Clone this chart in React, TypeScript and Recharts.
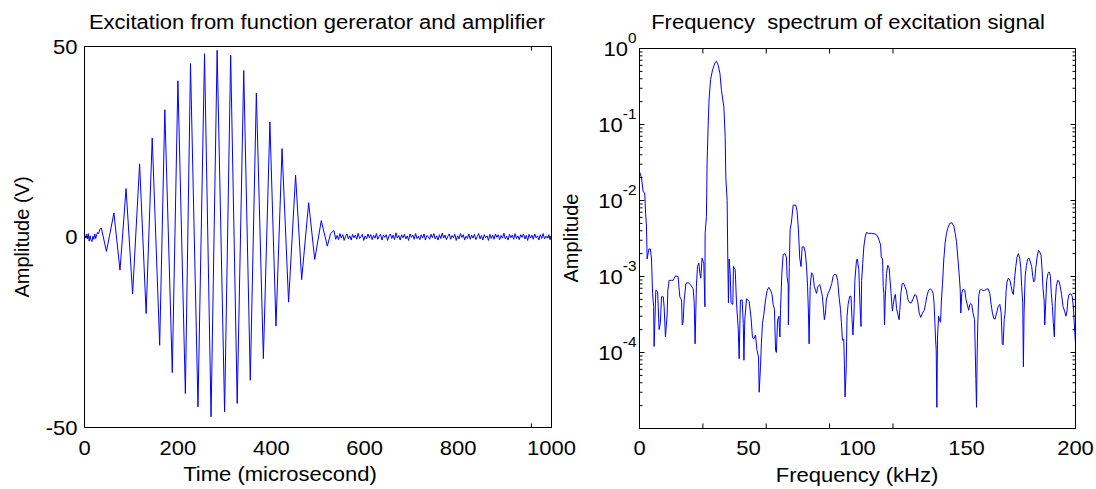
import React from "react";
import { LineChart, Line, XAxis, YAxis } from "recharts";

const FONT = '"Liberation Sans", Arial, Helvetica, sans-serif';
const TRACE = "#0000ff";
const INK = "#000000";

// ---- excitation signal (time in microseconds, amplitude in volts) ----
const leadTime = [0, 2, 4, 6, 8, 10, 12, 14, 16, 18, 20, 22, 24, 26, 28, 30];
const leadVolt = [0.4, -0.3, 0.7, -0.5, 0.9, -1.1, 0.3, -0.8, -1.2, 0.2, -0.6, 0.8, -0.4, 0.6, 1.2, 0.9];

const burstTime = [
  33, 36, 47, 63, 76, 89, 103, 118, 132, 145,
  161, 172, 188, 200, 216, 227, 243, 257, 271, 284,
  300, 313, 327, 341, 355, 368, 383, 397, 410, 423,
  437, 452, 465, 480, 493, 507, 520, 527, 534, 538,
];
const burstVolt = [
  2.0, 2.4, -3.8, 6.3, -8.7, 12.7, -14.9, 19.2, -20.1, 26.0,
  -28.4, 33.4, -35.6, 41.0, -41.1, 45.5, -44.6, 48.1, -47.2, 49.0,
  -45.9, 47.7, -43.7, 43.7, -37.6, 37.8, -31.9, 30.2, -23.4, 23.2,
  -17.1, 16.2, -11.2, 9.0, -5.9, 4.3, -2.4, 0.9, 1.7, -0.6,
];

// residual noise after the burst, sampled every 3 us from 541 us
const TAIL_START = 541;
const TAIL_STEP = 3;
const tailVolt = [
  0.4, -0.7, 0.9, -0.3, 0.6, -0.9, 0.2, 0.8, -0.5, 0.3,
  -0.8, 0.7, -0.2, 0.5, -0.6, 1.0, -0.4, 0.1, 0.7, -0.9,
  0.3, -0.5, 0.8, -0.2, 0.6, -0.7, 0.4, -0.3, 0.9, -0.6,
  0.2, 0.7, -0.8, 0.5, -0.1, 0.6, -0.9, 0.3, 0.8, -0.4,
  0.5, -0.7, 1.1, -0.3, 0.4, -0.8, 0.6, -0.2, 0.7, -0.5,
  0.3, -0.9, 0.8, -0.1, 0.5, -0.6, 0.9, -0.4, 0.2, -0.7,
  0.6, -0.3, 0.8, -0.8, 0.4, 0.1, -0.6, 0.7, -0.2, 0.9,
  -0.5, 0.3, -0.8, 0.6, -0.4, 1.0, -0.3, 0.5, -0.7, 0.2,
  0.8, -0.6, 0.4, -0.2, 0.7, -0.9, 0.3, -0.5, 0.9, -0.1,
  0.6, -0.8, 0.2, -0.4, 0.8, -0.6, 0.5, -0.3, 0.7, -0.7,
  0.1, 0.9, -0.5, 0.4, -0.8, 0.6, -0.2, 0.3, -0.9, 0.7,
  -0.4, 0.5, -0.6, 0.8, -0.1, 0.6, -0.7, 0.4, -0.3, 1.0,
  -0.5, 0.2, -0.8, 0.7, -0.2, 0.5, -0.6, 0.9, -0.4, 0.3,
  -0.7, 0.6, -0.1, 0.8, -0.5, 0.4, -0.9, 0.7, -0.3, 0.5,
  -0.6, 0.8, -0.2, 0.3, -0.8, 0.6, -0.4, 0.9, -0.5, 0.2,
  -0.3, 0.6, -0.7, 0.4,
];

const timeTicks = [0, 200, 400, 600, 800, 1000];
const voltTicks = [-50, 0, 50];

// ---- frequency spectrum (kHz, linear amplitude) ----
const specFreq = [
  0, 0.9, 1.7, 2.4, 2.8, 3.2, 3.5, 4.3, 5.0, 5.5,
  6.0, 6.5, 6.7, 7.5, 8.3, 8.6, 9.0, 9.6, 10.1, 10.9,
  11.3, 11.9, 12.7, 13.0, 13.6, 14.7, 15.4, 16.5, 17.7, 18.5,
  19.3, 19.6, 20.0, 20.5, 21.3, 22.3, 23.4, 24.6, 25.1, 25.5,
  26.1, 26.6, 27.2, 27.7, 28.1, 28.7, 29.5, 30.0, 30.1, 30.7,
  31.0, 31.5, 31.9, 32.6, 33.5, 34.6, 35.3, 36.1, 36.9, 37.6,
  38.7, 39.3, 39.6, 40.2, 40.5, 40.8, 41.1, 41.6, 42.0, 42.8,
  43.1, 43.9, 44.5, 45.3, 45.7, 46.3, 47.1, 47.6, 47.9, 48.3,
  49.1, 50.3, 51.2, 51.8, 52.4, 53.2, 53.9, 54.6, 54.9, 55.5,
  55.9, 56.4, 57.0, 57.8, 58.6, 59.3, 60.1, 60.8, 61.3, 61.9,
  62.4, 62.8, 63.3, 63.9, 64.4, 64.7, 65.3, 65.9, 66.7, 67.4,
  67.7, 68.2, 68.3, 68.7, 69.1, 69.7, 70.5, 71.7, 72.3, 72.9,
  73.5, 74.1, 74.6, 75.4, 76.0, 76.6, 77.1, 77.5, 77.8, 78.3,
  78.9, 79.6, 80.2, 80.7, 81.2, 81.8, 82.7, 83.3, 83.9, 84.4,
  84.8, 85.3, 85.7, 86.5, 87.2, 88.2, 88.8, 89.4, 90.3, 90.9,
  91.5, 92.2, 92.6, 93.1, 93.7, 94.0, 94.3, 94.8, 95.2, 95.7,
  96.4, 97.0, 97.5, 97.9, 98.4, 98.8, 99.5, 99.9, 100.6, 101.1,
  101.6, 101.9, 102.4, 102.9, 103.5, 104.1, 105.0, 106.4, 108.4, 109.2,
  109.9, 110.6, 110.9, 111.5, 111.8, 112.1, 112.4, 112.7, 113.3, 113.9,
  114.5, 114.8, 115.4, 115.7, 116.0, 116.4, 117.0, 117.4, 117.9, 118.5,
  119.1, 119.4, 119.9, 120.5, 121.2, 121.7, 122.4, 123.2, 124.0, 124.7,
  125.5, 126.3, 127.0, 127.7, 128.3, 129.0, 129.8, 130.6, 131.2, 131.8,
  132.6, 133.3, 134.1, 134.7, 135.1, 135.5, 135.8, 136.1, 136.4, 136.7,
  137.2, 137.6, 138.1, 138.5, 139.0, 139.6, 140.2, 140.8, 141.4, 142.3,
  143.3, 144.2, 144.8, 145.4, 146.0, 146.6, 147.1, 147.4, 147.8, 148.4,
  149.2, 149.7, 150.4, 151.0, 151.5, 152.0, 152.4, 153.0, 153.7, 154.0,
  154.3, 154.6, 154.9, 155.2, 155.6, 156.1, 156.9, 157.6, 158.4, 159.2,
  159.9, 160.7, 161.3, 161.9, 162.5, 163.1, 163.8, 164.5, 165.3, 165.9,
  166.4, 166.8, 167.3, 167.7, 168.2, 168.6, 169.2, 169.9, 170.5, 171.1,
  171.5, 172.0, 172.6, 173.2, 173.8, 174.4, 174.9, 175.3, 175.8, 176.1,
  176.4, 176.9, 177.5, 178.1, 178.7, 179.3, 179.9, 180.4, 180.8, 181.3,
  181.8, 182.4, 183.0, 183.6, 184.2, 184.7, 185.1, 185.6, 185.9, 186.4,
  186.8, 187.4, 188.0, 188.5, 188.9, 189.4, 189.8, 190.3, 190.7, 191.2,
  191.8, 192.4, 193.0, 193.6, 194.3, 195.0, 195.6, 196.1, 196.5, 197.0,
  197.9, 198.5, 199.0, 199.4, 200.0,
];
const specAmp = [
  2.4e-2, 2.0e-2, 1.3e-2, 1.26e-2, 6.8e-3, 4.6e-3, 1.7e-3, 2.3e-3, 2.3e-3, 1.7e-3,
  6.0e-4, 4.0e-4, 1.2e-4, 6.6e-4, 6.3e-4, 4.0e-4, 2.0e-4, 2.5e-4, 5.4e-4, 5.4e-4,
  4.0e-4, 1.6e-4, 3.2e-4, 6.6e-4, 8.9e-4, 8.9e-4, 8.9e-4, 1.02e-3, 1.0e-3, 5.4e-4,
  4.9e-4, 2.3e-4, 2.5e-4, 4.9e-4, 8.1e-4, 8.3e-4, 7.8e-4, 6.9e-4, 4.5e-4, 1.3e-4,
  7.4e-4, 1.35e-3, 1.5e-3, 1.1e-3, 9.5e-4, 1.74e-3, 1.48e-3, 4.0e-4, 3.7e-3, 6.2e-3,
  3.1e-2, 9.8e-2, 2.1e-1, 3.9e-1, 5.2e-1, 6.5e-1, 6.8e-1, 6.0e-1, 4.7e-1, 2.8e-1,
  1.7e-1, 6.9e-2, 2.0e-2, 1.0e-2, 1.7e-3, 4.5e-4, 1.7e-3, 1.1e-3, 4.5e-4, 4.3e-4,
  1.35e-3, 1.23e-3, 4.5e-4, 2.0e-4, 8.3e-5, 4.9e-4, 4.9e-4, 2.4e-4, 7.9e-5, 2.7e-4,
  5.1e-4, 4.7e-4, 2.8e-4, 1.6e-4, 1.5e-4, 1.7e-4, 1.07e-4, 8.7e-5, 3.0e-5, 6.5e-5,
  1.3e-4, 2.4e-4, 3.1e-4, 4.9e-4, 6.6e-4, 7.2e-4, 6.6e-4, 5.8e-4, 4.3e-4, 3.7e-4,
  1.07e-4, 1.0e-4, 2.6e-4, 3.0e-4, 1.6e-4, 3.7e-4, 1.12e-3, 1.95e-3, 2.0e-3, 1.8e-3,
  1.0e-3, 7.8e-4, 2.3e-4, 1.35e-3, 4.1e-3, 5.2e-3, 8.7e-3, 8.7e-3, 7.2e-3, 4.1e-3,
  1.74e-3, 1.35e-3, 2.45e-3, 2.45e-3, 2.1e-3, 1.4e-3, 7.4e-4, 3.3e-4, 1.3e-4, 7.4e-4,
  1.12e-3, 1.05e-3, 7.4e-4, 6.6e-4, 6.0e-4, 7.4e-4, 7.8e-4, 6.6e-4, 5.5e-4, 3.7e-4,
  2.7e-4, 3.3e-4, 4.9e-4, 6.0e-4, 6.6e-4, 8.1e-4, 1.0e-3, 1.07e-3, 1.05e-3, 8.9e-4,
  5.5e-4, 3.7e-4, 2.5e-4, 1.45e-4, 1.5e-4, 6.8e-5, 2.6e-5, 5.9e-5, 3.0e-4, 4.3e-4,
  5.5e-4, 5.5e-4, 2.7e-4, 1.7e-4, 3.3e-4, 8.9e-4, 1.6e-3, 1.7e-3, 1.23e-3, 4.5e-4,
  2.2e-4, 8.9e-4, 1.48e-3, 2.45e-3, 3.3e-3, 3.8e-3, 3.7e-3, 3.7e-3, 3.6e-3, 3.4e-3,
  3.0e-3, 2.6e-3, 1.8e-3, 1.7e-3, 7.4e-4, 6.0e-4, 2.3e-4, 4.9e-4, 1.1e-3, 1.4e-3,
  1.3e-3, 1.0e-3, 6.0e-4, 4.5e-4, 3.5e-4, 4.3e-4, 5.5e-4, 5.8e-4, 3.8e-4, 3.2e-4,
  2.7e-4, 3.6e-4, 6.0e-4, 8.1e-4, 8.1e-4, 7.4e-4, 6.6e-4, 4.9e-4, 4.5e-4, 4.5e-4,
  5.1e-4, 5.8e-4, 5.6e-4, 4.5e-4, 3.3e-4, 2.9e-4, 3.3e-4, 3.6e-4, 4.3e-4, 5.5e-4,
  6.6e-4, 6.9e-4, 6.6e-4, 6.0e-4, 4.5e-4, 2.5e-4, 1.5e-4, 1.1e-4, 1.9e-5, 1.6e-4,
  3.0e-4, 2.7e-4, 2.5e-4, 4.9e-4, 8.1e-4, 1.7e-3, 2.75e-3, 3.7e-3, 4.3e-3, 5.0e-3,
  5.1e-3, 4.6e-3, 3.7e-3, 2.9e-3, 1.8e-3, 1.1e-3, 6.9e-4, 3.3e-4, 6.0e-4, 6.8e-4,
  6.6e-4, 5.1e-4, 4.2e-4, 3.6e-4, 4.3e-4, 4.4e-4, 4.3e-4, 3.3e-4, 2.7e-4, 1.07e-4,
  4.4e-5, 1.9e-5, 9.8e-5, 2.5e-4, 5.5e-4, 6.6e-4, 6.8e-4, 6.5e-4, 6.6e-4, 6.8e-4,
  6.9e-4, 6.0e-4, 4.3e-4, 3.3e-4, 2.8e-4, 2.75e-4, 3.3e-4, 4.0e-4, 4.3e-4, 3.3e-4,
  1.3e-4, 1.26e-4, 2.7e-4, 3.3e-4, 6.6e-4, 8.5e-4, 9.5e-4, 8.9e-4, 7.4e-4, 6.0e-4,
  5.8e-4, 8.9e-4, 1.35e-3, 1.8e-3, 2.0e-3, 1.74e-3, 1.3e-3, 7.4e-4, 4.5e-4, 6.5e-5,
  3.3e-4, 1.0e-3, 1.4e-3, 1.7e-3, 1.74e-3, 1.55e-3, 1.35e-3, 1.0e-3, 8.5e-4, 8.9e-4,
  1.3e-3, 1.8e-3, 2.2e-3, 2.1e-3, 1.9e-3, 1.2e-3, 6.9e-4, 4.9e-4, 2.3e-4, 4.9e-4,
  8.9e-4, 1.1e-3, 1.15e-3, 1.0e-3, 6.0e-4, 4.0e-4, 2.5e-4, 1.6e-4, 4.5e-4, 7.4e-4,
  8.9e-4, 8.7e-4, 7.4e-4, 5.8e-4, 4.0e-4, 3.5e-4, 3.0e-4, 3.5e-4, 4.9e-4, 5.8e-4,
  5.9e-4, 5.5e-4, 4.0e-4, 2.5e-4, 1.3e-4,
];

const freqTicks = [0, 50, 100, 150, 200];
const decadeTicks = [1e-5, 1e-4, 1e-3, 1e-2, 1e-1, 1];
const minorSteps = [2, 3, 4, 5, 6, 7, 8, 9];
const logTicksAll = [
  ...decadeTicks,
  ...decadeTicks.slice(0, -1).flatMap((d) => minorSteps.map((m) => m * d)),
].sort((a, b) => a - b);

const timeData = [
  ...leadTime.map((t, i) => ({ t, v: leadVolt[i] })),
  ...burstTime.map((t, i) => ({ t, v: burstVolt[i] })),
  ...tailVolt.map((v, i) => ({ t: TAIL_START + i * TAIL_STEP, v })),
];
const specData = specFreq.map((f, i) => ({ f, a: specAmp[i] }));

// ---- tick renderers ----
const blankTick = () => <g />;

function BottomLabel(props: any) {
  const { x, y, payload } = props;
  return (
    <text
      transform={`translate(${x},${y}) scale(1.1,1)`}
      textAnchor="middle"
      dy="0.71em"
      fontFamily={FONT}
      fontSize={20}
      fill={INK}
    >
      {payload.value}
    </text>
  );
}

function LeftLabel(props: any) {
  const { x, y, payload } = props;
  return (
    <text
      transform={`translate(${x},${y}) scale(1.1,1)`}
      textAnchor="end"
      dy="0.355em"
      fontFamily={FONT}
      fontSize={20}
      fill={INK}
    >
      {payload.value}
    </text>
  );
}

function LogLabel(props: any) {
  const { x, y, payload } = props;
  const exp = Math.round(Math.log10(payload.value));
  if (exp <= -5) return <g />;
  return (
    <text
      transform={`translate(${x},${y}) scale(1.1,1)`}
      textAnchor="end"
      fontFamily={FONT}
      fontSize={20}
      fill={INK}
    >
      <tspan dy={7}>10</tspan>
      <tspan dy={-13} fontSize={14}>
        {String(exp)}
      </tspan>
    </text>
  );
}

// inward log ticks: long at decades, short in between
function makeLogTick(dir: number) {
  return (props: any) => {
    const { x, y, payload } = props;
    const lg = Math.log10(payload.value);
    const major = Math.abs(lg - Math.round(lg)) < 1e-6;
    return <line x1={x} y1={y} x2={x + dir * (major ? 5 : 3)} y2={y} stroke={INK} strokeWidth={1} />;
  };
}
const logTickLeft = makeLogTick(1);
const logTickRight = makeLogTick(-1);

function Caption({ x, y, text, vertical }: { x: number; y: number; text: string; vertical?: boolean }) {
  return (
    <div
      style={{
        position: "absolute",
        left: x,
        top: y,
        transform: vertical ? "translate(-50%, -50%) rotate(-90deg)" : "translate(-50%, -50%) scaleX(1.1)",
        fontFamily: FONT,
        fontSize: 20,
        lineHeight: "20px",
        whiteSpace: "pre",
        color: INK,
      }}
    >
      {text}
    </div>
  );
}

function TimeChart() {
  const xCommon = { type: "number" as const, domain: [0, 1000], allowDataOverflow: true, ticks: timeTicks, interval: 0, stroke: INK };
  const yCommon = { type: "number" as const, domain: [-50, 50], allowDataOverflow: true, ticks: voltTicks, interval: 0, stroke: INK };
  return (
    <LineChart width={600} height={489} data={timeData} margin={{ top: 46.5, right: 48.5, bottom: 0, left: 24.5 }}>
      <XAxis xAxisId="time" dataKey="t" {...xCommon} height={61.5} tickLine={false} tickSize={0} tickMargin={13} tick={BottomLabel} />
      <XAxis xAxisId="timeIn" {...xCommon} mirror tickSize={4} axisLine={false} tick={blankTick} />
      <XAxis xAxisId="timeTop" orientation="top" {...xCommon} mirror tickSize={4} tick={blankTick} />
      <YAxis yAxisId="volt" {...yCommon} width={60} tickLine={false} tickSize={0} tickMargin={7} tick={LeftLabel} />
      <YAxis yAxisId="voltIn" {...yCommon} mirror tickSize={4} axisLine={false} tick={blankTick} />
      <YAxis yAxisId="voltRight" orientation="right" {...yCommon} mirror tickSize={4} tick={blankTick} />
      <Line
        xAxisId="time"
        yAxisId="volt"
        dataKey="v"
        type="linear"
        stroke={TRACE}
        strokeWidth={1}
        dot={false}
        activeDot={false}
        isAnimationActive={false}
      />
    </LineChart>
  );
}

function SpectrumChart() {
  const xCommon = { type: "number" as const, domain: [0, 200], allowDataOverflow: true, ticks: freqTicks, interval: 0, stroke: INK };
  const yCommon = { type: "number" as const, scale: "log" as const, domain: [1e-5, 1], allowDataOverflow: true, interval: 0, stroke: INK };
  return (
    <LineChart width={536} height={489} data={specData} margin={{ top: 48.5, right: 20.5, bottom: 0, left: 19.5 }}>
      <XAxis xAxisId="freq" dataKey="f" {...xCommon} height={60.5} tickLine={false} tickSize={0} tickMargin={12} tick={BottomLabel} />
      <XAxis xAxisId="freqIn" {...xCommon} mirror tickSize={5} axisLine={false} tick={blankTick} />
      <XAxis xAxisId="freqTop" orientation="top" {...xCommon} mirror tickSize={5} tick={blankTick} />
      <YAxis yAxisId="amp" {...yCommon} ticks={decadeTicks} width={60} tickLine={false} tickSize={0} tickMargin={3} tick={LogLabel} />
      <YAxis yAxisId="ampIn" {...yCommon} ticks={logTicksAll} mirror tickLine={false} tickSize={0} tickMargin={0} axisLine={false} tick={logTickLeft} />
      <YAxis yAxisId="ampRight" orientation="right" {...yCommon} ticks={logTicksAll} mirror tickLine={false} tickSize={0} tickMargin={0} tick={logTickRight} />
      <Line
        xAxisId="freq"
        yAxisId="amp"
        dataKey="a"
        type="linear"
        stroke={TRACE}
        strokeWidth={1}
        dot={false}
        activeDot={false}
        isAnimationActive={false}
      />
    </LineChart>
  );
}

export default function App() {
  return (
    <div
      style={{
        position: "absolute",
        left: 0,
        top: 0,
        width: 1096,
        height: 489,
        background: "#ffffff",
        overflow: "hidden",
      }}
    >
      <div style={{ position: "absolute", left: 0, top: 0 }}>
        <TimeChart />
      </div>
      <div style={{ position: "absolute", left: 560, top: 0 }}>
        <SpectrumChart />
      </div>
      <Caption x={317} y={22} text="Excitation from function gererator and amplifier" />
      <Caption x={848} y={22} text="Frequency  spectrum of excitation signal" />
      <Caption x={280} y={474} text="Time (microsecond)" />
      <Caption x={857} y={475} text="Frequency (kHz)" />
      <Caption x={22} y={237} text="Amplitude (V)" vertical />
      <Caption x={571} y={238} text="Amplitude" vertical />
    </div>
  );
}
